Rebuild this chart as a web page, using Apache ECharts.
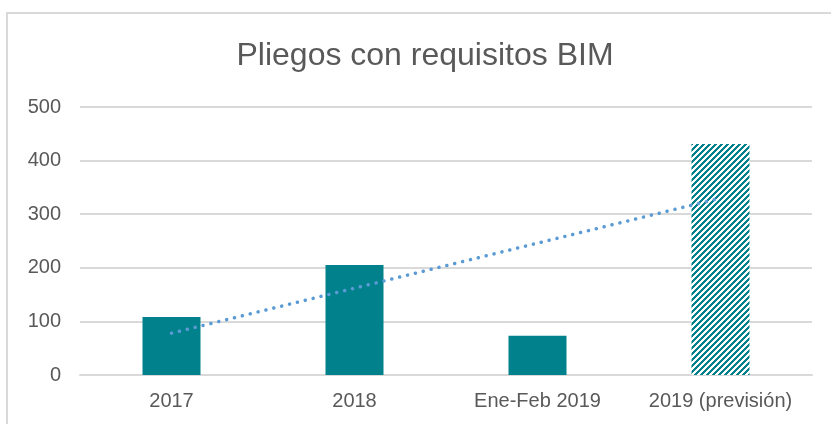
<!DOCTYPE html>
<html>
<head>
<meta charset="utf-8">
<script src="https://cdn.jsdelivr.net/npm/echarts@6/dist/echarts.min.js"></script>
<style>
  html, body { margin: 0; padding: 0; background: #fff; }
  #chart { width: 831px; height: 424px; }
</style>
</head>
<body>
<div id="chart"></div>
<script>
// Pliegos con requisitos BIM — bars + dotted linear trend

const categories = ['2017', '2018', 'Ene-Feb 2019', '2019 (previsión)'];
const pliegos = [108, 205, 73, 431];
const tendencia = [78, 162, 246, 330];
const yTicks = { min: 0, max: 500, interval: 100 };

const COLORS = {
  bar: '#00818B',
  trend: '#5B9BD5',
  grid: '#D9D9D9',
  text: '#595959',
};

// diagonal hatch used for the forecast bar
function hatchPattern() {
  const size = 6;
  const c = document.createElement('canvas');
  c.width = size; c.height = size;
  const ctx = c.getContext('2d');
  ctx.fillStyle = '#fff';
  ctx.fillRect(0, 0, size, size);
  ctx.fillStyle = COLORS.bar;
  for (let x = 0; x < size; x++) {
    for (let y = 0; y < size; y++) {
      if ((x + y) % size < 3) ctx.fillRect(x, y, 1, 1);
    }
  }
  return { image: c, repeat: 'repeat' };
}

const chart = echarts.init(document.getElementById('chart'), null, { renderer: 'canvas' });
const font = '"Liberation Sans", Arial, sans-serif';

chart.setOption({
  backgroundColor: '#fff',
  animation: false,
  title: {
    text: 'Pliegos con requisitos BIM',
    left: 425, top: 40, textAlign: 'center', padding: 0,
    textStyle: { color: COLORS.text, fontSize: 32, fontWeight: 'normal', fontFamily: font },
  },
  graphic: [{
    type: 'rect', silent: true,
    shape: { x: 7, y: 13, width: 1000, height: 1000 },
    style: { fill: 'none', stroke: COLORS.grid, lineWidth: 2 },
  }],
  grid: { left: 80, right: 19, top: 107, bottom: 49 },
  xAxis: {
    type: 'category',
    data: categories,
    axisLine: { lineStyle: { color: COLORS.grid, width: 2 } },
    axisTick: { show: false },
    axisLabel: { color: COLORS.text, fontSize: 20, fontFamily: font, margin: 16, interval: 0 },
  },
  yAxis: {
    type: 'value',
    ...yTicks,
    axisLine: { show: false },
    axisTick: { show: false },
    axisLabel: { color: COLORS.text, fontSize: 20, fontFamily: font, margin: 19 },
    splitLine: { lineStyle: { color: COLORS.grid, width: 2 } },
  },
  series: [
    {
      name: 'Pliegos', type: 'bar', barWidth: 58,
      itemStyle: { color: COLORS.bar },
      data: pliegos.map((v, i) => i === pliegos.length - 1
        ? { value: v, itemStyle: { color: hatchPattern() } }
        : v),
    },
    {
      name: 'Tendencia', type: 'line', symbol: 'none', z: 5,
      lineStyle: { color: COLORS.trend, width: 3.5, type: [0.1, 8], cap: 'round' },
      data: tendencia,
    },
  ],
});
</script>
</body>
</html>
